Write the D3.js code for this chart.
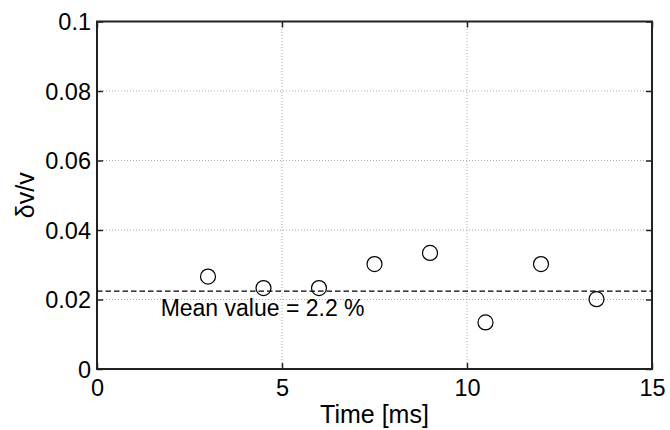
<!DOCTYPE html>
<html>
<head>
<meta charset="utf-8">
<script src="https://cdn.jsdelivr.net/npm/d3@7"></script>
<style>
  body { margin: 0; background: #fff; }
  text { font-family: "Liberation Sans", Arial, sans-serif; fill: #000; }
</style>
</head>
<body>
<script>
const width = 670, height = 430;
const margin = {top: 21.5, right: 18, bottom: 61, left: 97};

// data
const time = [3, 4.5, 6, 7.5, 9, 10.5, 12, 13.5];
const dv = [0.0266, 0.0233, 0.0233, 0.0302, 0.0334, 0.0134, 0.0302, 0.0201];
const meanValue = 0.0224;
const meanLabel = "Mean value = 2.2 %";
const xTicks = [0, 5, 10, 15];
const yTicks = [0, 0.02, 0.04, 0.06, 0.08, 0.1];

const svg = d3.select('body').append('svg').attr('width', width).attr('height', height);

const x = d3.scaleLinear().domain([0, 15]).range([margin.left, width - margin.right]);
const y = d3.scaleLinear().domain([0, 0.1]).range([height - margin.bottom, margin.top]);

const x0 = x.range()[0], x1 = x.range()[1], y0 = y.range()[0], y1 = y.range()[1];

// dotted grid
const grid = svg.append('g').attr('stroke', '#aaa').attr('stroke-width', 1).attr('stroke-dasharray', '1,2');
grid.selectAll('.gx').data(xTicks.slice(1, -1)).enter().append('line')
  .attr('x1', d => x(d)).attr('x2', d => x(d)).attr('y1', y0).attr('y2', y1);
grid.selectAll('.gy').data(yTicks.slice(1, -1)).enter().append('line')
  .attr('x1', x0).attr('x2', x1).attr('y1', d => y(d)).attr('y2', d => y(d));

// axes with inward ticks, mirrored like matlab
const tk = 6;
const xb = svg.append('g').attr('transform', `translate(0,${y0})`)
  .call(d3.axisBottom(x).tickValues(xTicks).tickSizeInner(-tk).tickSizeOuter(0).tickPadding(10).tickFormat(d3.format('')));
const xt = svg.append('g').attr('transform', `translate(0,${y1})`)
  .call(d3.axisTop(x).tickValues(xTicks).tickSizeInner(-tk).tickSizeOuter(0).tickFormat(''));
const yl = svg.append('g').attr('transform', `translate(${x0},0)`)
  .call(d3.axisLeft(y).tickValues(yTicks).tickSizeInner(-tk).tickSizeOuter(0).tickPadding(6).tickFormat(d3.format('')));
const yr = svg.append('g').attr('transform', `translate(${x1},0)`)
  .call(d3.axisRight(y).tickValues(yTicks).tickSizeInner(-tk).tickSizeOuter(0).tickFormat(''));

[xb, xt, yl, yr].forEach(g => {
  g.select('.domain').remove();
  g.selectAll('line').attr('stroke', '#222').attr('stroke-width', 1.5);
  g.selectAll('text').style('font-size', '23.5px').attr('fill', '#000');
});
xb.selectAll('text').attr('dy', '0.71em');
yl.selectAll('text').attr('dy', '0.36em');

// box
svg.append('rect').attr('x', x0).attr('y', y1).attr('width', x1 - x0).attr('height', y0 - y1)
  .attr('fill', 'none').attr('stroke', '#222').attr('stroke-width', 2);

// mean line
svg.append('line').attr('x1', x0).attr('x2', x1).attr('y1', y(meanValue)).attr('y2', y(meanValue))
  .attr('stroke', '#000').attr('stroke-width', 1.3).attr('stroke-dasharray', '5.5,3');

svg.append('text').attr('x', x(1.72)).attr('y', y(meanValue) + 25)
  .style('font-size', '23px').text(meanLabel);

// points
svg.selectAll('circle').data(time).enter().append('circle')
  .attr('cx', d => x(d)).attr('cy', (d, i) => y(dv[i])).attr('r', 7.5)
  .attr('fill', 'none').attr('stroke', '#000').attr('stroke-width', 1.2);

// labels
svg.append('text').attr('x', (x0 + x1) / 2).attr('y', 423).attr('text-anchor', 'middle')
  .style('font-size', '25px').text('Time [ms]');
svg.append('text').attr('transform', `translate(34,${(y0 + y1) / 2}) rotate(-90)`)
  .attr('text-anchor', 'middle').style('font-size', '25px').text('δv/v');
</script>
</body>
</html>
